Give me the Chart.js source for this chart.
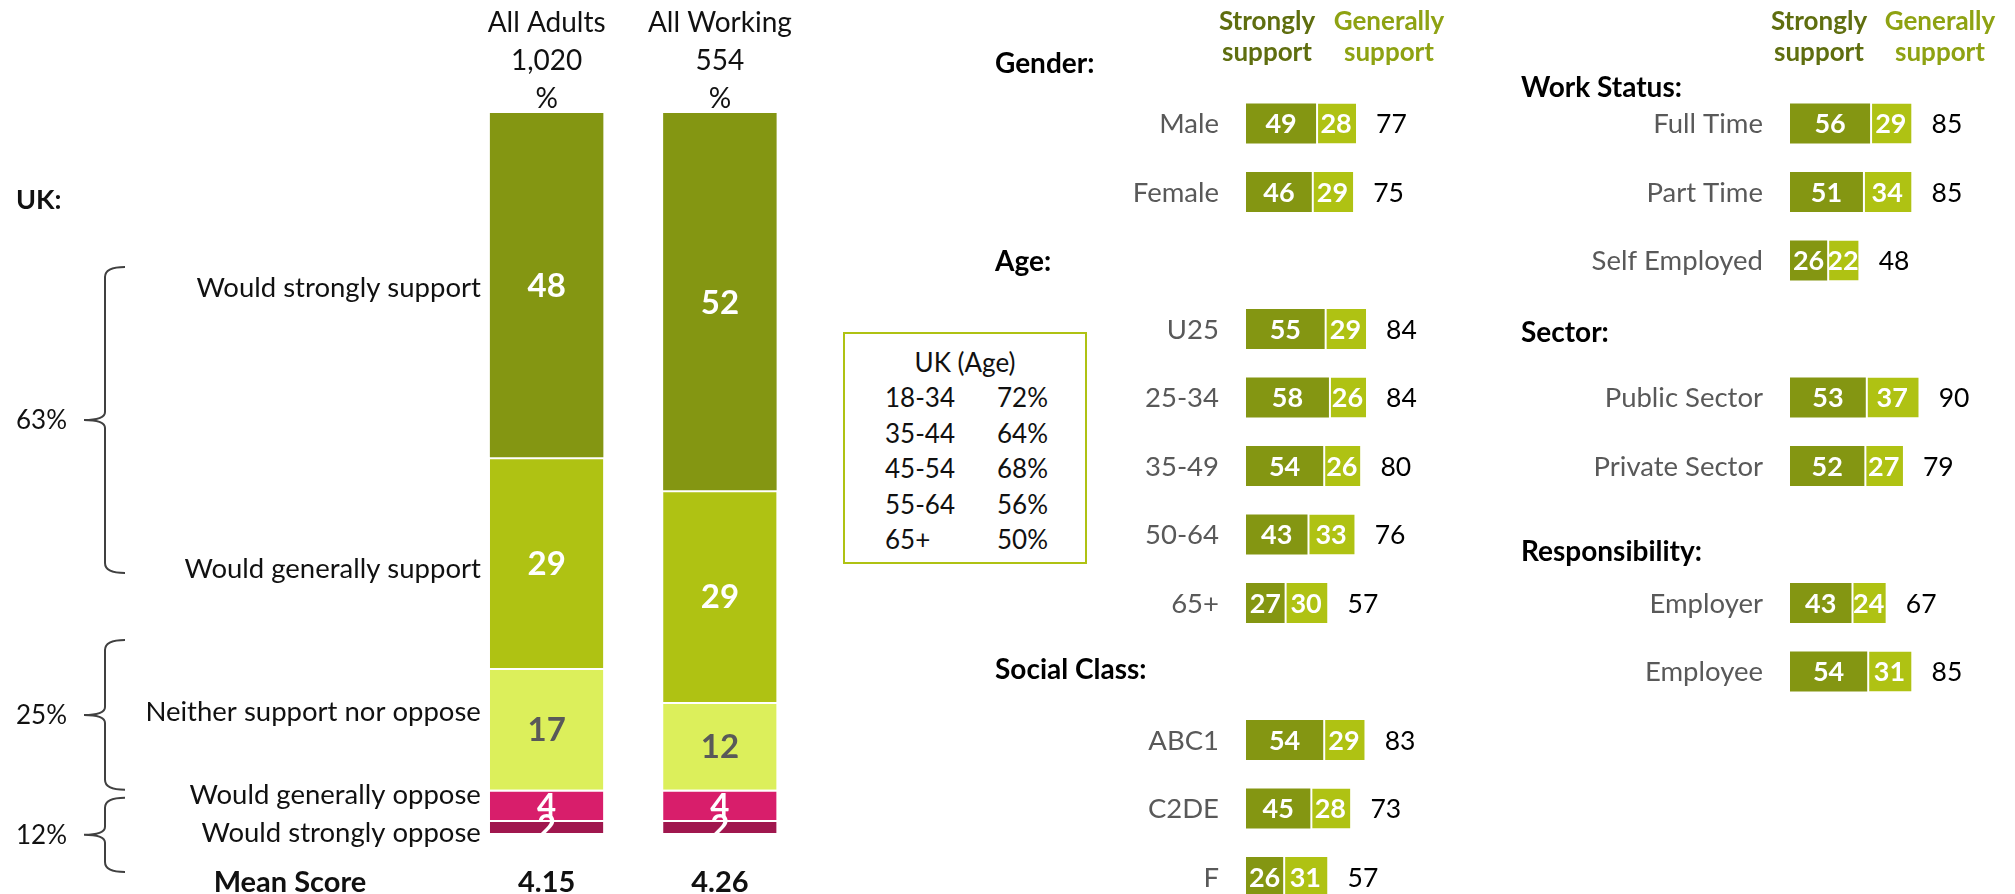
<!DOCTYPE html>
<html>
<head>
<meta charset="utf-8">
<title>Support - UK and groups</title>
<script src="https://cdn.jsdelivr.net/npm/chart.js@4.4.0/dist/chart.umd.min.js"></script>
<style>
  html, body { margin: 0; padding: 0; background: #fff; overflow: hidden; }
  body { width: 2015px; height: 894px; position: relative; font-family: Lato, sans-serif; }
  canvas { position: absolute; top: 0; }
  #ageBox {
    position: absolute; left: 843px; top: 332px; width: 244px; height: 232px;
    box-sizing: border-box; border: 2px solid #afc213; font-size: 26px; color: #111;
  }
  #ageBox .title { text-align: center; margin-top: 10px; line-height: 36px; }
  #ageBox .row { display: flex; line-height: 35.5px; }
  #ageBox .band { width: 112px; padding-left: 40px; }
</style>
</head>
<body>
<canvas id="ukChart" width="830" height="894" style="left:0"></canvas>
<div id="ageBox"></div>
<canvas id="groupChart" width="520" height="940" style="left:980px"></canvas>
<canvas id="workChart" width="515" height="894" style="left:1500px"></canvas>

<script>
// UK columns
const ukColumns = [["All Adults", "1,020", "%"], ["All Working", "554", "%"]];
const ukAnswers = ["Would strongly support", "Would generally support", "Neither support nor oppose",
    "Would generally oppose", "Would strongly oppose"];
const strongSupportUK = [47.8, 52.4];
const generalSupportUK = [29.3, 29.4];
const neitherUK = [16.9, 12.2];
const generalOpposeUK = [4.2, 4.2];
const strongOpposeUK = [1.8, 1.8];
const meanScores = ["4.15", "4.26"];
const ukNetShares = ["63%", "25%", "12%"];

// UK (Age) box
const ageBands = ["18-34", "35-44", "45-54", "55-64", "65+"];
const ageShares = ["72%", "64%", "68%", "56%", "50%"];

// demographic groups
const groupRows = ["Gender:", "Male", "Female", "Age:", "U25", "25-34", "35-49", "50-64", "65+",
    "Social Class:", "ABC1", "C2DE", "F"];
const groupStrong = [null, 49, 46, null, 55, 58, 54, 43, 27, null, 54, 45, 26];
const groupGeneral = [null, 28, 29, null, 29, 26, 26, 33, 30, null, 29, 28, 31];
const groupTotal = [null, 77, 75, null, 84, 84, 80, 76, 57, null, 83, 73, 57];

// work groups
const workRows = ["Work Status:", "Full Time", "Part Time", "Self Employed", "Sector:",
    "Public Sector", "Private Sector", "Responsibility:", "Employer", "Employee"];
const workStrong = [null, 56, 51, 26, null, 53, 52, null, 43, 54];
const workGeneral = [null, 29, 34, 22, null, 37, 27, null, 24, 31];
const workTotal = [null, 85, 85, 48, null, 90, 79, null, 67, 85];

const olive = "#849612";
const lime = "#afc213";
const pale = "#dcef5b";
const rose = "#d81e6b";
const wine = "#a0174e";
const FONT = "Lato, 'Open Sans', sans-serif";


// text drawn with its cap height centred on y
function drawText(ctx, str, x, y, size, color, align, bold) {
    ctx.font = (bold ? "bold " : "") + size + "px " + FONT;
    ctx.fillStyle = color;
    ctx.textAlign = align;
    ctx.textBaseline = "alphabetic";
    ctx.fillText(str, x, y + size * 0.36);
}


const valueLabels = {
    id: "valueLabels",
    afterDatasetsDraw(chart, args, opts) {
        const ctx = chart.ctx;
        ctx.save();
        chart.data.datasets.forEach((ds, i) => {
            chart.getDatasetMeta(i).data.forEach((bar, j) => {
                const v = ds.data[j];
                if (v == null) return;
                const p = bar.getCenterPoint();
                drawText(ctx, String(Math.round(v)), p.x, p.y, opts.size, ds.labelColor || "#fff", "center", true);
            });
        });
        ctx.restore();
    }
};


function brace(ctx, x, top, bottom, tip) {
    const mid = (top + bottom) / 2;
    ctx.beginPath();
    ctx.moveTo(x + 20, top);
    ctx.quadraticCurveTo(x, top, x, top + 10);
    ctx.lineTo(x, mid - 8);
    ctx.quadraticCurveTo(x, mid, tip, mid);
    ctx.quadraticCurveTo(x, mid, x, mid + 8);
    ctx.lineTo(x, bottom - 10);
    ctx.quadraticCurveTo(x, bottom, x + 20, bottom);
    ctx.stroke();
    return mid;
}


const ukDecor = {
    id: "ukDecor",
    afterDatasetsDraw(chart) {
        const { ctx, scales: { x, y } } = chart;
        ctx.save();

        ukColumns.forEach((lines, i) => {
            const px = x.getPixelForValue(i);
            lines.forEach((t, k) => drawText(ctx, t, px, 22 + k * 38, 28, "#111", "center", false));
            drawText(ctx, meanScores[i], px, 882, 29, "#111", "center", true);
        });

        // answer labels next to the first column
        const nudge = [2, 5, -18, -11, 6];
        const barLeft = chart.getDatasetMeta(0).data[0];
        const left = barLeft.x - barLeft.width / 2 - 9;
        ukAnswers.forEach((t, i) => {
            const p = chart.getDatasetMeta(i).data[0].getCenterPoint();
            drawText(ctx, t, left, p.y + nudge[i], 27.5, "#111", "right", false);
        });

        drawText(ctx, "UK:", 16, 199, 27, "#111", "left", true);
        drawText(ctx, "Mean Score", 290, 882, 29, "#111", "center", true);

        ctx.strokeStyle = "#404040";
        ctx.lineWidth = 2;
        const spans = [[21.4, 63.9], [73.2, 94.0], [95.1, 105.4]];
        spans.forEach((s, i) => {
            const mid = brace(ctx, 105, y.getPixelForValue(s[0]), y.getPixelForValue(s[1]), 84);
            drawText(ctx, ukNetShares[i], 16, mid, 26, "#111", "left", false);
        });
        ctx.restore();
    }
};


const rowDecor = {
    id: "rowDecor",
    afterDatasetsDraw(chart, args, opts) {
        const { ctx, chartArea, scales: { x, y } } = chart;
        const ds = chart.data.datasets;
        let h = 0;
        ctx.save();
        chart.data.labels.forEach((label, i) => {
            const py = y.getPixelForValue(i);
            if (label.endsWith(":")) {
                drawText(ctx, label, opts.headerX, py + opts.nudges[h++], 28, "#000", "left", true);
                return;
            }
            drawText(ctx, label, chartArea.left - 27, py, 27.5, "#595959", "right", false);
            const end = x.getPixelForValue(ds[0].data[i] + ds[1].data[i]);
            drawText(ctx, String(opts.totals[i]), end + 20, py, 26.5, "#000", "left", false);
        });

        // column key
        const kx1 = chartArea.left + opts.keyX[0];
        const kx2 = chartArea.left + opts.keyX[1];
        drawText(ctx, "Strongly", kx1, 21, 26, "#5f6e0f", "center", true);
        drawText(ctx, "support", kx1, 52, 26, "#5f6e0f", "center", true);
        drawText(ctx, "Generally", kx2, 21, 26, "#8ea212", "center", true);
        drawText(ctx, "support", kx2, 52, 26, "#8ea212", "center", true);
        ctx.restore();
    }
};


function buildAgeBox() {
    const box = document.getElementById("ageBox");
    let html = '<div class="title">UK (Age)</div>';
    ageBands.forEach((b, i) => {
        html += `<div class="row"><span class="band">${b}</span><span>${ageShares[i]}</span></div>`;
    });
    box.innerHTML = html;
}


function buildUkChart() {
    const sep = { top: 2, right: 0, bottom: 0, left: 0 };
    new Chart(document.getElementById("ukChart"), {
        type: "bar",
        data: {
            labels: ukColumns.map(c => c[0]),
            datasets: [
                { label: ukAnswers[0], data: strongSupportUK, backgroundColor: olive, borderWidth: 0 },
                { label: ukAnswers[1], data: generalSupportUK, backgroundColor: lime, borderWidth: sep },
                { label: ukAnswers[2], data: neitherUK, backgroundColor: pale, borderWidth: sep, labelColor: "#595959" },
                { label: ukAnswers[3], data: generalOpposeUK, backgroundColor: rose, borderWidth: sep },
                { label: ukAnswers[4], data: strongOpposeUK, backgroundColor: wine, borderWidth: sep }
            ]
        },
        options: {
            responsive: false,
            animation: false,
            layout: { padding: { left: 460, right: 23.5, top: 113, bottom: 61 } },
            datasets: { bar: { categoryPercentage: 1, barPercentage: 0.655, borderColor: "#fff", borderSkipped: false } },
            plugins: { legend: { display: false }, tooltip: { enabled: false }, valueLabels: { size: 33 } },
            scales: {
                x: { display: false, stacked: true },
                y: { display: false, stacked: true, reverse: true, min: 0, max: 100 }
            }
        },
        plugins: [valueLabels, ukDecor]
    });
}


function buildRowChart(id, rows, strong, general, totals, padding, decor) {
    new Chart(document.getElementById(id), {
        type: "bar",
        data: {
            labels: rows,
            datasets: [
                { label: "Strongly support", data: strong, backgroundColor: olive, borderWidth: 0 },
                { label: "Generally support", data: general, backgroundColor: lime,
                  borderWidth: { left: 2, right: 0, top: 0, bottom: 0 } }
            ]
        },
        options: {
            indexAxis: "y",
            responsive: false,
            animation: false,
            layout: { padding: padding },
            datasets: { bar: { categoryPercentage: 1, barPercentage: 0.584, borderColor: "#fff", borderSkipped: false } },
            plugins: {
                legend: { display: false },
                tooltip: { enabled: false },
                valueLabels: { size: 27 },
                rowDecor: Object.assign({ totals: totals }, decor)
            },
            scales: {
                x: { display: false, stacked: true, min: 0, max: 100 },
                y: { display: false, stacked: true }
            }
        },
        plugins: [valueLabels, rowDecor]
    });
}


buildAgeBox();
buildUkChart();
buildRowChart("groupChart", groupRows, groupStrong, groupGeneral, groupTotal,
    { left: 266, right: 111, top: 20.75, bottom: 28.75 },
    { headerX: 15, nudges: [8, 0, -3], keyX: [21, 143] });
buildRowChart("workChart", workRows, workStrong, workGeneral, workTotal,
    { left: 290, right: 82, top: 20.75, bottom: 188.25 },
    { headerX: 21, nudges: [32, 3, 16], keyX: [29, 150] });
</script>
</body>
</html>
